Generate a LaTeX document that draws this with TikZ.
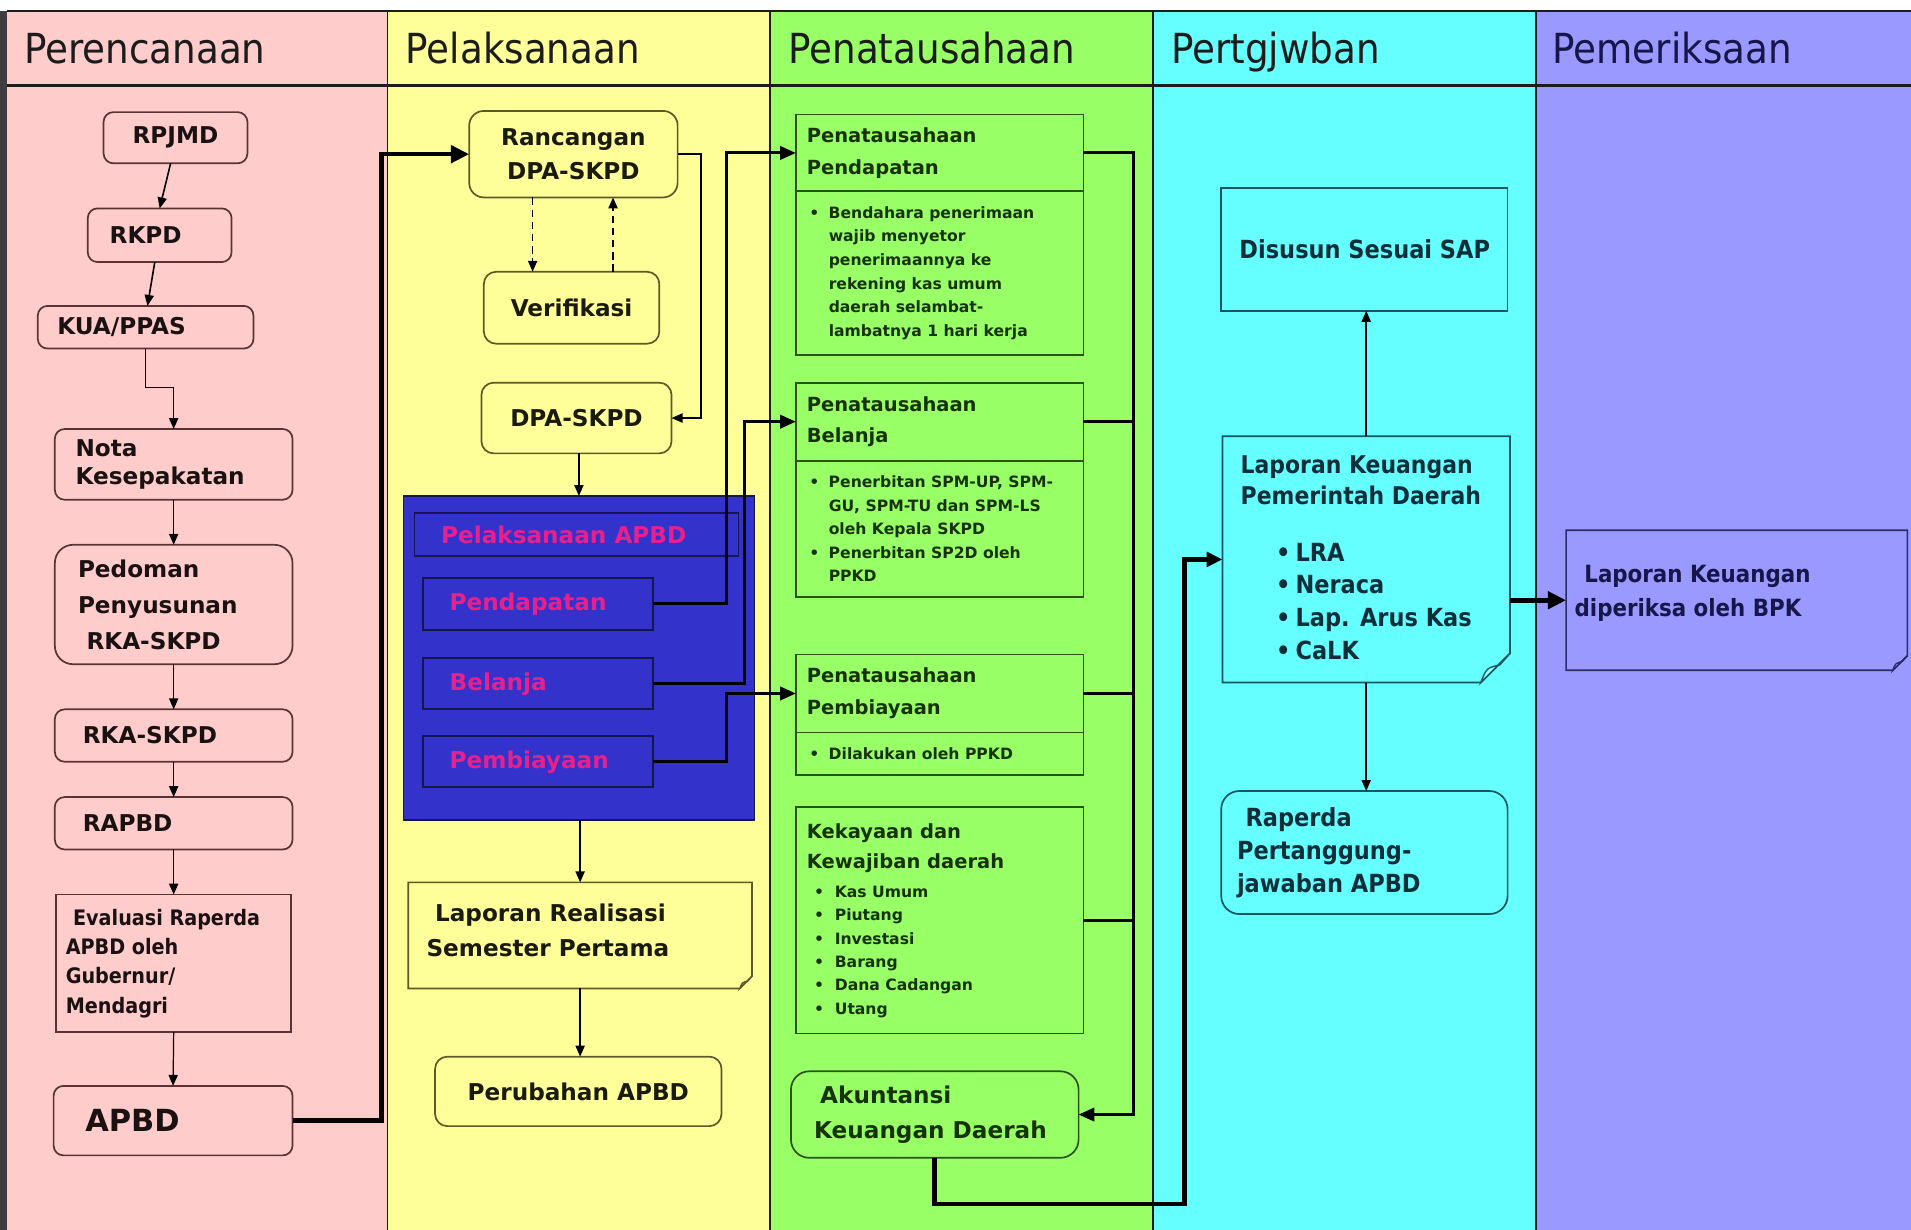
\documentclass[tikz,border=0pt]{standalone}
\usepackage{fontspec}
\setmainfont{DejaVu Sans}
\newfontfamily\condf{DejaVu Sans Condensed}[BoldFont={DejaVu Sans Condensed Bold}]
\usetikzlibrary{arrows.meta}

\definecolor{lanepink}{HTML}{FFCCCC}
\definecolor{laneyellow}{HTML}{FFFF99}
\definecolor{lanegreen}{HTML}{99FF66}
\definecolor{lanecyan}{HTML}{66FFFF}
\definecolor{lanepurple}{HTML}{9999FF}
\definecolor{blockblue}{HTML}{3333CC}
\definecolor{magtext}{HTML}{E8208C}
\definecolor{edgepink}{HTML}{5A3434}
\definecolor{edgeyellow}{HTML}{5C5A2A}
\definecolor{edgegreen}{HTML}{2C5218}
\definecolor{edgecyan}{HTML}{16565C}
\definecolor{edgepurple}{HTML}{2C2C66}
\definecolor{edgeblue}{HTML}{16164A}
\definecolor{txtpink}{HTML}{1A1212}
\definecolor{txtyellow}{HTML}{1A1A0E}
\definecolor{txtgreen}{HTML}{183208}
\definecolor{txtcyan}{HTML}{0E2E3A}
\definecolor{txtpurple}{HTML}{16164A}
\definecolor{laneline}{HTML}{1C1C1C}
\definecolor{sideborder}{HTML}{3E3E40}

\newcommand\mybul[1][16pt]{\makebox[#1][l]{\textbullet}}
\newcommand\myind[1][16pt]{\hspace*{#1}}
\newcommand\drawnote[4]{%
  \draw[line width=1.4pt, draw=#3, fill=#2]
    (#1.north west) -- (#1.north east) -- ([yshift=#4]#1.south east)
    -- ([xshift=-#4]#1.south east) -- (#1.south west) -- cycle;
  \draw[line width=1.1pt, draw=#3, fill=#2!70!white]
    ([xshift=-#4]#1.south east) .. controls ([xshift=-#4*0.8, yshift=#4*0.5]#1.south east) .. ([xshift=-#4*0.35, yshift=#4*0.6]#1.south east) -- ([yshift=#4]#1.south east) -- cycle;
}

\tikzset{
  every node/.style={inner sep=0pt, outer sep=0pt},
  pbox/.style={draw=edgepink, fill=lanepink, line width=1.4pt, rounded corners=8pt},
  ybox/.style={draw=edgeyellow, fill=laneyellow, line width=1.4pt, rounded corners=10pt},
  gbox/.style={draw=edgegreen, fill=lanegreen, line width=1.4pt},
  cbox/.style={draw=edgecyan, fill=lanecyan, line width=1.4pt},
  bbox/.style={draw=edgeblue, fill=blockblue, line width=1.4pt},
  hdr/.style={font=\condf\fontsize{34}{40}\selectfont, text=laneline},
  ptxt/.style={font=\fontsize{19}{23}\selectfont\bfseries, text=txtpink, align=left},
  ytxt/.style={font=\fontsize{19}{28}\selectfont\bfseries, text=txtyellow, align=left},
  mtxt/.style={font=\fontsize{19}{23}\selectfont\bfseries, text=magtext, align=left},
  ghead/.style={font=\fontsize{16}{26}\selectfont\bfseries, text=txtgreen, align=left},
  gbody/.style={font=\fontsize{12.8}{19.3}\selectfont\bfseries, text=txtgreen, align=left},
  ctxt/.style={font=\condf\fontsize{20.5}{27}\selectfont\bfseries, text=txtcyan, align=left},
  utxt/.style={font=\condf\fontsize{19.5}{28}\selectfont\bfseries, text=txtpurple, align=left},
  tarr/.style={line width=1.3pt, -{Triangle[length=9pt,width=7.5pt]}},
  dasharr/.style={line width=1.4pt, dash pattern=on 6pt off 4pt, -{Triangle[length=9pt,width=7.5pt]}},
  medline/.style={line width=2.4pt},
  medarr/.style={line width=2.4pt, -{Triangle[length=13pt,width=11pt]}},
  bigarr/.style={line width=3.8pt, -{Triangle[length=15pt,width=14pt]}},
}

\begin{document}
\begin{tikzpicture}[x=1pt, y=-1pt]
\useasboundingbox (0,0) rectangle (1568,1009);
% lanes
\fill[white] (0,0) rectangle (1568,1009);
\fill[lanepink] (6,9) rectangle (318,1009);
\fill[laneyellow] (318,9) rectangle (632,1009);
\fill[lanegreen] (632,9) rectangle (946,1009);
\fill[lanecyan] (946,9) rectangle (1260,1009);
\fill[lanepurple] (1260,9) rectangle (1568,1009);
\fill[sideborder] (0,9) rectangle (6,1009);
\draw[laneline, line width=2pt] (6,9) -- (1568,9);
\draw[laneline, line width=2pt] (6,70) -- (1568,70);
\foreach \xx in {318,632,946,1260} \draw[laneline, line width=1.5pt] (\xx,9) -- (\xx,1009);

% headers
\node[hdr, anchor=base west] (hPer) at (20,52) {Perencanaan};
\node[hdr, anchor=base west] (hPel) at (333,52) {Pelaksanaan};
\node[hdr, anchor=base west] (hPen) at (647,52) {Penatausahaan};
\node[hdr, anchor=base west] (hPtj) at (961,52) {Pertgjwban};
\node[hdr, anchor=base west, text=txtpurple] (hPem) at (1274,52) {Pemeriksaan};

% ---------- Perencanaan ----------
\node[pbox, ptxt, minimum width=118pt, minimum height=42pt] (rpjmd) at (144,113) {RPJMD};
\node[pbox, minimum width=118pt, minimum height=44pt] (rkpd) at (131,193) {};
\node[ptxt, anchor=west] (rkpdT) at ([xshift=18pt]rkpd.west) {RKPD};
\node[pbox, minimum width=177pt, minimum height=35pt] (kua) at (119.5,268.5) {};
\node[ptxt, anchor=west] (kuaT) at ([xshift=16pt]kua.west) {KUA/PPAS};
\node[pbox, minimum width=195pt, minimum height=58pt] (nota) at (142.5,381) {};
\node[ptxt, anchor=west] (notaT) at ([xshift=17pt]nota.west) {Nota\\Kesepakatan};
\node[pbox, rounded corners=15pt, minimum width=195pt, minimum height=98pt] (pedoman) at (142.5,496) {};
\node[ptxt, font=\fontsize{19}{29.5}\selectfont\bfseries, anchor=west] (pedomanT) at ([xshift=19pt]pedoman.west) {Pedoman\\Penyusunan\\\hspace*{7pt}RKA-SKPD};
\node[pbox, minimum width=195pt, minimum height=43pt] (rkaskpd) at (142.5,603.5) {};
\node[ptxt, anchor=west] (rkaskpdT) at ([xshift=23pt]rkaskpd.west) {RKA-SKPD};
\node[pbox, minimum width=195pt, minimum height=43pt] (rapbd) at (142.5,675.5) {};
\node[ptxt, anchor=west] (rapbdT) at ([xshift=23pt]rapbd.west) {RAPBD};
\node[pbox, rounded corners=0pt, minimum width=193pt, minimum height=113pt] (evaluasi) at (142.5,790.5) {};
\node[ptxt, font=\condf\fontsize{17.5}{24}\selectfont\bfseries, anchor=west] (evaluasiT) at ([xshift=8pt]evaluasi.west) {\hspace*{6pt}Evaluasi Raperda\\APBD oleh\\Gubernur/\\Mendagri};
\node[pbox, minimum width=196pt, minimum height=57pt] (apbd) at (142,919.5) {};
\node[ptxt, font=\fontsize{25}{30}\selectfont\bfseries, anchor=west] (apbdT) at ([xshift=26pt]apbd.west) {APBD};

% ---------- Pelaksanaan ----------
\node[ybox, ytxt, align=center, rounded corners=12pt, minimum width=171pt, minimum height=71pt] (rancangan) at (470.5,126.5) {Rancangan\\DPA-SKPD};
\node[ybox, ytxt, minimum width=144pt, minimum height=59pt] (verifikasi) at (469,252.5) {Verifikasi};
\node[ybox, ytxt, minimum width=156pt, minimum height=58pt] (dpa) at (473,343) {DPA-SKPD};
\node[bbox, minimum width=288pt, minimum height=266pt] (blue) at (475,540) {};
\node[bbox, minimum width=266pt, minimum height=35pt] (pelapbd) at (473,438.5) {};
\node[mtxt, anchor=west] (pelapbdT) at ([xshift=22pt]pelapbd.west) {Pelaksanaan APBD};
\node[bbox, minimum width=189pt, minimum height=43pt] (pend) at (441.5,495.5) {};
\node[mtxt, anchor=west] (pendT) at ([xshift=22pt]pend.west) {Pendapatan};
\node[bbox, minimum width=189pt, minimum height=42pt] (bel) at (441.5,561) {};
\node[mtxt, anchor=west] (belT) at ([xshift=22pt]bel.west) {Belanja};
\node[bbox, minimum width=189pt, minimum height=42pt] (pemb) at (441.5,625) {};
\node[mtxt, anchor=west] (pembT) at ([xshift=22pt]pemb.west) {Pembiayaan};
\node[minimum width=282pt, minimum height=87pt] (lapreal) at (476,767.5) {};
\drawnote{lapreal}{laneyellow}{edgeyellow}{10pt}
\node[ytxt, font=\fontsize{19}{29}\selectfont\bfseries, anchor=west] (laprealT) at ([xshift=15pt,yshift=4pt]lapreal.west) {\hspace*{7pt}Laporan Realisasi\\Semester Pertama};
\node[ybox, ytxt, minimum width=235pt, minimum height=57pt] (perubahan) at (474.5,895.5) {Perubahan APBD};

% ---------- Penatausahaan ----------
\node[gbox, minimum width=236pt, minimum height=63pt] (ppendh) at (771,125.5) {};
\node[ghead, anchor=west] (ppendhT) at ([xshift=9pt]ppendh.west) {Penatausahaan\\Pendapatan};
\node[gbox, minimum width=236pt, minimum height=134pt] (ppendb) at (771,224) {};
\node[gbody, anchor=west] (ppendbT) at ([xshift=11pt]ppendb.west) {\mybul Bendahara penerimaan\\\myind wajib menyetor\\\myind penerimaannya ke\\\myind rekening kas umum\\\myind daerah selambat-\\\myind lambatnya 1 hari kerja};
\node[gbox, minimum width=236pt, minimum height=64pt] (pbelh) at (771,346) {};
\node[ghead, anchor=west] (pbelhT) at ([xshift=9pt]pbelh.west) {Penatausahaan\\Belanja};
\node[gbox, minimum width=236pt, minimum height=112pt] (pbelb) at (771,434) {};
\node[gbody, anchor=west] (pbelbT) at ([xshift=11pt]pbelb.west) {\mybul Penerbitan SPM-UP, SPM-\\\myind GU, SPM-TU dan SPM-LS\\\myind oleh Kepala SKPD\\\mybul Penerbitan SP2D oleh\\\myind PPKD};
\node[gbox, minimum width=236pt, minimum height=64pt] (ppembh) at (771,569) {};
\node[ghead, anchor=west] (ppembhT) at ([xshift=9pt]ppembh.west) {Penatausahaan\\Pembiayaan};
\node[gbox, minimum width=236pt, minimum height=35pt] (ppembb) at (771,618.5) {};
\node[gbody, anchor=west] (ppembbT) at ([xshift=11pt]ppembb.west) {\mybul Dilakukan oleh PPKD};
\node[gbox, minimum width=236pt, minimum height=186pt] (kekayaan) at (771,755) {};
\node[ghead, font=\fontsize{16}{24}\selectfont\bfseries, anchor=west] (kekayaanT) at ([xshift=9pt,yshift=59pt]kekayaan.west) {Kekayaan dan\\Kewajiban daerah};
\node[gbody, font=\fontsize{12.8}{19.2}\selectfont\bfseries, anchor=west] (kekayaanL) at ([xshift=15pt,yshift=-26pt]kekayaan.west) {\mybul[17pt]Kas Umum\\\mybul[17pt]Piutang\\\mybul[17pt]Investasi\\\mybul[17pt]Barang\\\mybul[17pt]Dana Cadangan\\\mybul[17pt]Utang};
\node[gbox, rounded corners=15pt, minimum width=236pt, minimum height=71pt] (akuntansi) at (767,914.5) {};
\node[ghead, font=\fontsize{19}{29}\selectfont\bfseries, anchor=west] (akuntansiT) at ([xshift=19pt]akuntansi.west) {\hspace*{5pt}Akuntansi\\Keuangan Daerah};

% ---------- Pertanggungjawaban ----------
\node[cbox, minimum width=235pt, minimum height=101pt] (disusun) at (1119.5,204.5) {};
\node[ctxt, anchor=west] (disusunT) at ([xshift=15pt]disusun.west) {Disusun Sesuai SAP};
\node[minimum width=236pt, minimum height=202pt] (lkpd) at (1121,459) {};
\drawnote{lkpd}{lanecyan}{edgecyan}{24pt}
\node[ctxt, font=\condf\fontsize{20}{26}\selectfont\bfseries, anchor=west] (lkpdT) at ([xshift=15pt,yshift=65pt]lkpd.west) {Laporan Keuangan\\Pemerintah Daerah};
\node[ctxt, font=\condf\fontsize{20.5}{27}\selectfont\bfseries, anchor=west] (lkpdL) at ([xshift=44pt,yshift=-34.5pt]lkpd.west) {\mybul LRA\\\mybul Neraca\\\mybul Lap. Arus Kas\\\mybul CaLK};
\node[cbox, rounded corners=15pt, minimum width=235pt, minimum height=101pt] (raperda) at (1119.5,699.5) {};
\node[ctxt, anchor=west] (raperdaT) at ([xshift=13pt]raperda.west) {\hspace*{7pt}Raperda\\Pertanggung-\\jawaban APBD};

% ---------- Pemeriksaan ----------
\node[minimum width=280pt, minimum height=115pt] (bpk) at (1425,492.5) {};
\drawnote{bpk}{lanepurple}{edgepurple}{12pt}
\node[utxt, anchor=west] (bpkT) at ([xshift=7pt,yshift=6pt]bpk.west) {\hspace*{8pt}Laporan Keuangan\\diperiksa oleh BPK};

% ---------- connectors ----------
\draw[tarr] ([xshift=-4pt]rpjmd.south) -- (rkpd.north);
\draw[tarr] ([xshift=-4pt]rkpd.south) -- ([xshift=1.5pt]kua.north);
\draw[tarr] (kua.south) -- ++(0,32) -| (nota.north);
\draw[tarr] (nota.south) -- (pedoman.north);
\draw[tarr] (pedoman.south) -- (rkaskpd.north);
\draw[tarr] (rkaskpd.south) -- (rapbd.north);
\draw[tarr] (rapbd.south) -- (evaluasi.north);
\draw[tarr, line width=1pt] (evaluasi.south) -- (apbd.north);
\draw[bigarr] (apbd.east) -- ++(73,0) |- (rancangan.west);

\draw[dasharr] ([xshift=-33.5pt]rancangan.south) -- ([xshift=-32pt]verifikasi.north);
\draw[dasharr] ([xshift=34pt]verifikasi.north) -- ([xshift=32.5pt]rancangan.south);
\draw[tarr] (rancangan.east) -- ++(19,0) |- (dpa.east);
\draw[tarr] ([xshift=2pt]dpa.south) -- ([xshift=2pt]dpa.south |- blue.north);
\draw[tarr] ([xshift=1pt]blue.south) -- ([xshift=1pt]blue.south |- lapreal.north);
\draw[tarr] (lapreal.south) -- (lapreal.south |- perubahan.north);

\draw[medarr] (pend.east) -- ++(60,0) |- (ppendh.west);
\draw[medarr] (bel.east) -- ++(75,0) |- (pbelh.west);
\draw[medarr] (pemb.east) -- ++(60,0) |- (ppembh.west);

\coordinate (bus) at (930,125.5);
\draw[medarr] (ppendh.east) -- (bus) |- (akuntansi.east);
\draw[medline] (pbelh.east) -- (pbelh.east -| bus);
\draw[medline] (ppembh.east) -- (ppembh.east -| bus);
\draw[medline] (kekayaan.east) -- (kekayaan.east -| bus);

\coordinate (loopturn) at (972,988);
\draw[bigarr, -{Triangle[length=13pt,width=12pt]}] (akuntansi.south) |- (loopturn) |- (lkpd.west);
\draw[tarr] (lkpd.north) -- (lkpd.north |- disusun.south);
\draw[tarr] (lkpd.south) -- (lkpd.south |- raperda.north);
\draw[bigarr] (lkpd.east |- bpk.west) -- (bpk.west);
\end{tikzpicture}
\end{document}
